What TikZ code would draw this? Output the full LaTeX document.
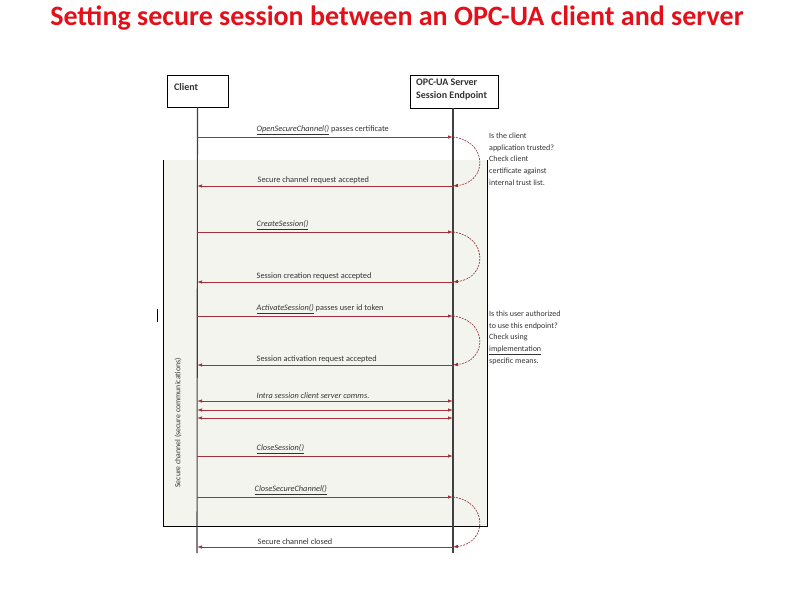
\documentclass[tikz,border=0pt]{standalone}
\usepackage{fontspec}
\setmainfont{Carlito}
\usetikzlibrary{arrows.meta}
\definecolor{msg}{HTML}{A3313D}
\definecolor{loopc}{HTML}{8E2A35}
\definecolor{ttl}{HTML}{E3101A}
\definecolor{bgshade}{HTML}{F4F4EE}
\definecolor{txt}{HTML}{333333}
\begin{document}
\begin{tikzpicture}[x=1pt,y=-1pt,
  msgline/.style={draw=msg,line width=0.8pt,-{Latex[length=5pt,width=3.5pt]}},
  msgboth/.style={draw=msg,line width=0.8pt,{Latex[length=5pt,width=3.5pt]}-{Latex[length=5pt,width=3.5pt]}},
  selfloop/.style={draw=loopc,line width=0.6pt,dash pattern=on 2pt off 1pt,-{Latex[length=5pt,width=3.5pt]}},
  lbl/.style={anchor=south west,inner sep=0.5pt,font=\fontsize{8.3}{9}\selectfont,text=txt},
  meth/.style={lbl,font=\fontsize{8.3}{9}\selectfont\itshape},
  note/.style={anchor=north west,align=left,inner sep=0pt,font=\fontsize{8}{11.6}\selectfont,text=txt},
  hdr/.style={draw=black,line width=0.8pt,fill=white,inner sep=0pt}]
\useasboundingbox (0,0) rectangle (794,595);
% title
\node[text=ttl,font=\fontsize{28}{32}\selectfont\bfseries] (title) at (397,18) {Setting secure session between an OPC-UA client and server};
% shaded region
\fill[bgshade] (163,160) rectangle (487,526);
\draw[black,line width=0.9pt] (163,160) -- (163,526) -- (487,526) -- (487,160);
% small bar
\draw[black,line width=0.8pt] (157,309) -- (157,322);
% header boxes
\node[hdr,minimum width=61pt,minimum height=32pt] (client) at (197.5,91) {};
\node[anchor=west,font=\fontsize{10}{11}\selectfont\bfseries,text=txt,inner sep=0pt] (clientlbl) at (174,87) {Client};
\node[hdr,minimum width=88pt,minimum height=33pt] (server) at (454,91.5) {};
\node[anchor=north west,align=left,font=\fontsize{10}{13}\selectfont\bfseries,text=txt,inner sep=0pt] (serverlbl) at (416,79) {OPC-UA Server\\Session Endpoint};
% lifelines
\coordinate (cend) at (197,553);
\coordinate (send) at (453,553);
\draw[black!75,line width=1.1pt] (client.south) -- (cend);
\draw[black!75,line width=1.1pt] (server.south -| send) -- (send);
% coordinates on lifelines
\foreach \n/\y in {1/137,2/186,3/232,4/282,5/316,6/365,7/401,8/410,9/418,10/456,11/497,12/547}{
  \coordinate (c\n) at (197,\y);
  \coordinate (s\n) at (453,\y);
}
% messages
\draw[msgline] (c1) -- (s1);
\draw[msgline] (s2) -- (c2);
\draw[msgline] (c3) -- (s3);
\draw[msgline] (s4) -- (c4);
\draw[msgline] (c5) -- (s5);
\draw[msgline] (s6) -- (c6);
\draw[msgboth] (c7) -- (s7);
\draw[msgboth] (c8) -- (s8);
\draw[msgboth] (c9) -- (s9);
\draw[msgline] (c10) -- (s10);
\draw[msgline] (c11) -- (s11);
\draw[msgline] (s12) -- (c12);
% self loops
\draw[selfloop] (s1) .. controls (488,141) and (488,182) .. (s2);
\draw[selfloop] (s3) .. controls (488,236) and (488,278) .. (s4);
\draw[selfloop] (s5) .. controls (488,320) and (488,361) .. (s6);
\draw[selfloop] (s11) .. controls (488,501) and (488,543) .. (s12);
% labels
\node[lbl] (l1) at (256,135.5) {\underline{\itshape OpenSecureChannel()} passes certificate};
\node[lbl] (l2) at (257,184.5) {Secure channel request accepted};
\node[lbl] (l3) at (256,230.5) {\underline{\itshape CreateSession()}};
\node[lbl] (l4) at (256,280.5) {Session creation request accepted};
\node[lbl] (l5) at (256,314.5) {\underline{\itshape ActivateSession()} passes user id token};
\node[lbl] (l6) at (256,363.5) {Session activation request accepted};
\node[meth] (l7) at (256,399.5) {Intra session client server comms.};
\node[lbl] (l8) at (256,454.5) {\underline{\itshape CloseSession()}};
\node[lbl] (l9) at (254,495.5) {\underline{\itshape CloseSecureChannel()}};
\node[lbl] (l10) at (257,545.5) {Secure channel closed};
% notes
\node[note] (n1) at (489,133) {Is the client\\application trusted?\\Check client\\certificate against\\internal trust list.};
\node[note] (n2) at (489,311) {Is this user authorized\\to use this endpoint?\\Check using\\\underline{implementation}\\specific means.};
% vertical label
\node[rotate=90,font=\fontsize{7.8}{8}\selectfont,text=txt,inner sep=0pt] (vlbl) at (178,423) {Secure channel (secure communications)};
\end{tikzpicture}
\end{document}
